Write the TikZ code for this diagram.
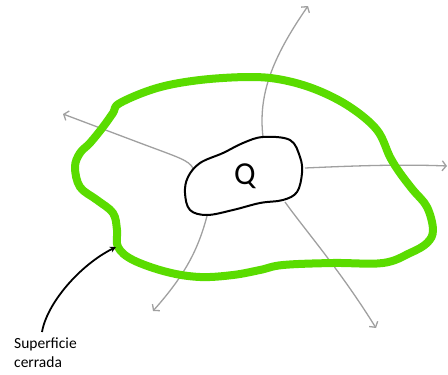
\documentclass[tikz,border=0pt]{standalone}
\usepackage{fontspec}
\setsansfont{Carlito}
\usetikzlibrary{arrows.meta,positioning}
\definecolor{surfgreen}{RGB}{90,220,0}
\definecolor{fieldgray}{RGB}{160,160,160}
\tikzset{
  surface/.style ={draw=surfgreen, line width=8pt, line cap=round, line join=round},
  charge/.style  ={draw=black, line width=2pt},
  field/.style   ={draw=fieldgray, line width=1.3pt, -{Straight Barb[length=4pt,width=10pt]}},
  pointer/.style ={draw=black, line width=1.8pt, -{Stealth[length=6pt,width=6pt]}},
  lbl/.style     ={font=\sffamily\fontsize{15.5}{19}\selectfont, align=left, inner sep=0pt}
}
\begin{document}
\begin{tikzpicture}[x=1pt,y=-1pt]
\useasboundingbox (0,0) rectangle (448,375);

% Field lines (start on the charge, free ends outside)
\coordinate (f1s) at (263,137); \coordinate (f1e) at (308,6);
\coordinate (f2s) at (305,168); \coordinate (f2e) at (447,166);
\coordinate (f3s) at (193,168); \coordinate (f3e) at (63,114);
\coordinate (f4s) at (207,216); \coordinate (f4e) at (153,311);
\coordinate (f5s) at (285,202); \coordinate (f5e) at (376,328);
\draw[field] (f1s) .. controls (258,95) and (272,58) .. (f1e);
\draw[field] (f2s) .. controls (350,166) and (400,164) .. (f2e);
\draw[field] (f3s) .. controls (188,160) and (180,158) .. (140,143) -- (f3e);
\draw[field] (f4s) .. controls (198,250) and (185,275) .. (f4e);
\draw[field] (f5s) .. controls (305,230) and (340,270) .. (f5e);

% Closed surface
\draw[surface] plot[smooth cycle, tension=0.6] coordinates {
  (120,103) (157,88) (200,80) (250,77) (283,80) (317,90) (350,107) (377,130)
  (390,157) (400,173) (413,190) (427,207) (433,230) (427,243) (410,253) (383,263)
  (333,263) (283,265) (260,270) (233,275) (200,277) (167,272) (133,260) (118,247)
  (117,230) (113,213) (97,200) (80,187) (75,167) (80,153) (90,143) (103,127) (113,113)};

% Charge region
\draw[charge] plot[smooth cycle, tension=0.6] coordinates {
  (263,137) (290,140) (300,157) (302,173) (297,192) (283,200) (260,203) (233,210)
  (207,215) (190,210) (185,193) (188,177) (200,163) (223,153) (243,143)};
\node[font=\sffamily\fontsize{32}{32}\selectfont, inner sep=0pt] (q) at (245,176) {Q};

% Label
\node[lbl, anchor=north west] (sup) at (14,338) {Superficie\\cerrada};
\coordinate (tail) at (42,332);
\coordinate (tip) at (116,247);
\draw[pointer] (tail) .. controls (47,303) and (80,265) .. (tip);
\end{tikzpicture}
\end{document}
